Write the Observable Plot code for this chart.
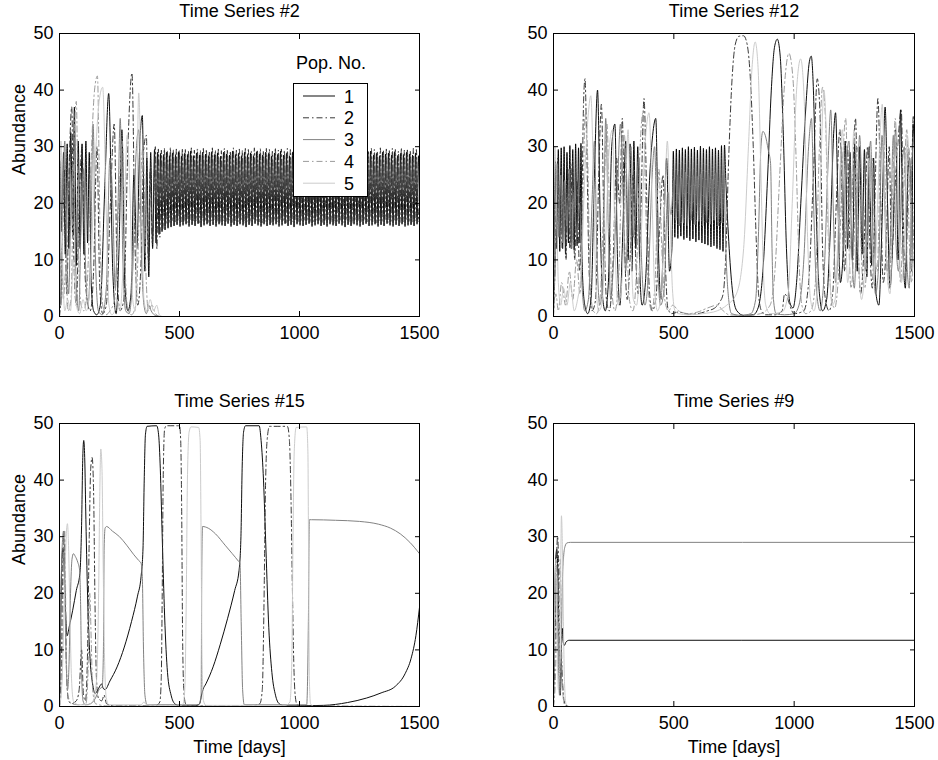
<!DOCTYPE html>
<html><head><meta charset="utf-8">
<script src="https://cdn.jsdelivr.net/npm/d3@7"></script>
<script src="https://cdn.jsdelivr.net/npm/@observablehq/plot@0.6"></script>
<style>
body{margin:0;background:#fff}
#wrap{position:relative;width:938px;height:760px;background:#fff;font-family:'Liberation Sans',Arial,Helvetica,sans-serif}
#wrap > svg{position:absolute}
</style></head><body><div id="wrap"></div>
<script>
// ---------- labels & ticks ----------
const popLabels = ["1","2","3","4","5"];
const legendTitle = "Pop. No.";
const xTicks = [0,500,1000,1500];
const yTicks = [0,10,20,30,40,50];
const titles = ["Time Series #2","Time Series #12","Time Series #15","Time Series #9"];
const xLabel = "Time [days]";
const yLabel = "Abundance";

// ---------- Time Series #2 ----------
const ts2_pop1_a = [[0,0],[4,27.5],[10,15],[17,29],[24,11],[32,30.5],[39,12],[47,32.5],[55,14],[62,37],[70,9],[78,31],[86,12],[94,30.5],[102,11],[110,31],[117,13],[124,29],[132,6],[142,1],[155,0.3],[170,2],[188,22],[205,39.4],[222,8],[236,0.5],[248,12],[260,33],[272,6],[285,1],[298,4],[310,25],[322,12],[334,30],[345,35.5],[356,8],[364,28],[372,7],[380,29],[388,12]];
const ts2_pop1_bandStart = 396, ts2_bandStep = 6.25;
const ts2_pop1_band = [29.5,13,29,14.5,28.8,15,28.6,15.3,29,15.6,28.4,15.8,28.9,16,28.6,16.2,29.1,15.9,28.3,16.1,
28.8,16.3,28.6,15.9,29.2,16.2,28.4,16,28.9,16.4,28.5,15.8,29,16.1,28.7,16.3,28.4,16,29.1,16.2,
28.6,15.9,28.9,16.3,28.3,16.1,29,16,28.7,16.4,28.5,15.9,29.2,16.2,28.6,16,28.8,16.3,28.4,16.1,
29,15.8,28.6,16.2,28.9,16,28.4,16.4,29.1,16.1,28.7,15.9,28.5,16.3,29,16,28.8,16.2,28.3,16.1,
28.9,16.3,28.6,15.9,29.2,16.1,28.5,16.4,28.8,16,28.4,16.2,29,15.8,28.7,16.3,28.9,16.1,28.5,16,
29.1,16.2,28.6,16.4,28.3,15.9,28.9,16.1,28.7,16.3,29,16,28.5,16.2,28.8,15.9,28.4,16.3,29.2,16.1,
28.6,16,28.9,16.4,28.4,16.1,29,15.8,28.7,16.2,28.5,16,29.1,16.3,28.6,16.1,28.8,15.9,28.3,16.2,
28.9,16.4,28.6,16,29.2,16.1,28.5,16.3,28.8,15.9,28.4,16.2,29,16,28.7,16.4,28.9,16.1,28.5,15.9,
29.1,16.2,28.4,16,28.8,16.3,28.6,15.9,29,16.1,28.7,16.2,28.5,16,28.9,16.3,28.4];
const ts2_pop1_end = [[1500,22]];
const ts2_pop2_a = [[0,0],[8,5],[20,26],[30,4],[42,29],[51,37],[60,10],[70,2],[82,20],[94,30],[104,10],[115,3],[128,1],[142,8],[156,30],[168,5],[180,0.5],[195,2],[212,20],[228,34],[240,8],[252,1],[268,3],[285,30],[302,43],[315,12],[326,2],[340,10],[352,30],[362,32],[370,10],[378,26],[387,13]];
const ts2_pop2_bandStart = 399.5;
const ts2_pop2_band = [30,12,29.6,14,29.4,15.5,29.7,16.3,29.2,16.6,29.8,16.9,29.4,16.5,29.6,17,29.3,16.7,29.7,16.8,
29.5,16.6,29.2,17.1,29.8,16.7,29.4,16.9,29.6,16.5,29.3,17,29.7,16.8,29.5,16.6,29.2,16.9,29.8,17.1,
29.4,16.7,29.6,16.5,29.3,16.9,29.7,16.8,29.5,17,29.2,16.6,29.8,16.9,29.4,16.7,29.6,17.1,29.3,16.5,
29.7,16.8,29.5,16.6,29.2,17,29.8,16.9,29.4,16.7,29.6,16.5,29.3,16.8,29.7,17.1,29.5,16.6,29.2,16.9,
29.8,16.7,29.4,17,29.6,16.8,29.3,16.5,29.7,16.9,29.5,16.7,29.2,17.1,29.8,16.6,29.4,16.8,29.6,17,
29.3,16.9,29.7,16.5,29.5,16.7,29.2,17,29.8,16.8,29.4,16.6,29.6,16.9,29.3,17.1,29.7,16.7,29.5,16.5,
29.2,16.8,29.8,17,29.4,16.6,29.6,16.9,29.3,16.7,29.7,16.5,29.5,17.1,29.2,16.8,29.8,16.6,29.4,16.9,
29.6,16.7,29.3,17,29.7,16.8,29.5,16.5,29.2,16.9,29.8,16.7,29.4,17.1,29.6,16.6,29.3,16.8,29.7,17,
29.5,16.9,29.2,16.6,29.8,16.7,29.4,17,29.6,16.8,29.3,16.5,29.7,16.9,29.5,16.7];
const ts2_pop2_end = [[1500,22]];
const ts2_pop3 = [[0,10],[6,2],[14,20],[22,31],[30,12],[38,4],[48,20],[58,27],[68,8],[80,1],[92,20],[100,26],[108,10],[118,2],[130,12],[140,34],[150,10],[162,1],[178,0.3],[195,5],[210,28],[222,20],[232,5],[244,20],[253,35],[264,10],[276,1],[290,0.5],[305,8],[318,28],[330,33],[342,10],[352,2],[362,0.5],[372,2],[382,1],[395,0.3],[420,0],[1500,0]];
const ts2_pop4 = [[0,3],[8,12],[16,3],[26,8],[36,1],[48,3],[60,30],[70,38],[80,10],[90,2],[102,1],[116,6],[132,28],[146,40],[158,42.5],[170,12],[180,2],[195,0.3],[210,1],[230,3],[248,22],[262,31],[274,8],[286,1],[300,0.3],[318,2],[334,20],[348,30],[360,8],[370,1],[385,2],[400,0.5],[420,0],[1500,0]];
const ts2_pop5 = [[0,12],[6,31],[14,8],[22,1],[34,3],[46,1],[58,10],[70,2],[84,0.5],[98,3],[112,1],[126,5],[146,25],[165,38],[180,40.5],[194,20],[206,2],[218,0.3],[230,1],[240,3],[252,1],[266,10],[282,32],[295,20],[305,3],[316,1],[330,39.5],[342,20],[352,3],[364,1],[378,3],[392,1],[405,2],[416,0.3],[430,0],[1500,0]];

// ---------- Time Series #12 ----------
const ts12_pop1_a = [[0,0],[8,27.5],[14,12],[20,29.5],[26,11.5],[32,29.8],[38,12],[44,30],[50,11],[56,29],[62,13],[68,30.2],[74,12],[80,29.5],[86,11.8],[92,30.5],[98,12.5],[104,29.8],[110,13],[114,30.6],[120,8],[130,2],[142,0.5],[156,3],[170,25],[183,40],[195,15],[205,3],[215,1],[228,6],[242,30],[255,34],[266,10],[276,2],[288,15],[300,31],[310,10],[318,30.5],[326,8],[334,31],[342,12],[350,30],[358,9],[368,2],[382,6],[400,25],[412,32],[425,35],[436,12],[446,3],[458,15],[470,28],[482,8],[492,12]];
const ts12_pop1_bandStart = 498, ts12_bandStep = 6.25;
const ts12_pop1_band = [29.2,14,29.6,13.8,29.4,14.2,29.8,13.6,29.5,13.9,30,13.4,29.6,13.7,29.9,13.2,29.4,13.5,30.1,13,29.7,12.8,29.5,12.6,30,12.3,29.6,12.5,29.8,12,29.4,11.8,30.2,11.5,30.3];
const ts12_pop1_b = [[716,24],[730,12],[745,4],[762,1],[790,0.2],[830,0.3],[850,1.5],[870,8],[890,25],[905,40],[918,47.5],[930,49],[942,46],[955,32],[968,12],[982,2.5],[995,1.5],[1010,6],[1030,22],[1050,38],[1063,45],[1071,46],[1080,40],[1092,18],[1105,4],[1118,1],[1135,3],[1150,15],[1165,33],[1172,36],[1182,20],[1192,6],[1202,10],[1212,31],[1222,12],[1232,29],[1242,10],[1252,30.5],[1262,8],[1272,30],[1282,11],[1292,29.5],[1302,7],[1312,30],[1322,9],[1330,28],[1340,4],[1352,2],[1364,15],[1378,37],[1388,20],[1398,5],[1410,14],[1422,33],[1432,10],[1442,36.5],[1452,12],[1462,5],[1472,25],[1480,28],[1488,8],[1494,34],[1500,30]];
const ts12_pop2 = [[0,0],[6,8],[12,20],[18,28],[24,14],[30,26],[36,12],[44,27],[52,10],[60,26],[68,12],[78,27],[88,10],[98,24],[108,8],[118,20],[125,38],[131,42],[138,30],[148,8],[160,1],[175,3],[188,25],[199,37.5],[210,15],[220,3],[232,1],[248,10],[262,28],[275,20],[286,35],[296,12],[306,3],[318,10],[330,25],[340,12],[352,4],[364,20],[376,38.5],[388,20],[398,5],[410,1],[425,3],[440,15],[455,25],[466,8],[475,1.5],[490,0.5],[520,0.8],[560,0.4],[600,0.5],[640,1],[670,1.5],[690,2.5],[705,4],[715,10],[728,28],[742,42],[755,48],[770,49.5],[790,49.6],[805,48],[818,42],[830,30],[842,14],[852,4],[864,1],[880,0.3],[920,0.3],[950,1],[960,4],[1000,0.5],[1040,1],[1060,6],[1080,25],[1096,42],[1108,35],[1118,12],[1130,3],[1145,1],[1160,4],[1175,20],[1190,33],[1200,18],[1210,8],[1222,30],[1232,12],[1245,27],[1255,35],[1265,14],[1276,4],[1290,12],[1305,30],[1315,12],[1325,5],[1335,20],[1348,38.5],[1360,20],[1370,6],[1382,12],[1395,30],[1405,10],[1418,22],[1430,30],[1445,36.5],[1455,15],[1465,8],[1475,30],[1485,20],[1495,35.5],[1500,33]];
const ts12_pop3_a = [[0,3],[8,10],[16,27],[22,14],[30,25],[38,13],[46,24],[56,16],[66,26],[76,12],[86,22],[96,14],[108,20],[118,6],[130,1],[145,3],[160,20],[170,31],[180,12],[192,2],[205,6],[217,35],[228,15],[238,3],[250,10],[265,22],[278,34],[290,20],[300,8],[312,22],[322,30],[332,14],[344,22],[355,28],[366,10],[380,2],[395,8],[410,25],[420,30],[432,10],[445,2],[460,5],[475,22],[488,18]];
const ts12_pop3_bandStart = 500, ts12_pop3_step = 8;
const ts12_pop3_band = [24,17,25,16,24.5,16.5,25.5,16,24,17,25,16.2,24.8,16.8,25.2,16,24.5,16.6,25,16.3,24.2,17,25.4,16,24.6,16.5,25];
const ts12_pop3_b = [[716,12],[728,3],[740,0.5],[780,0.2],[820,0.5],[840,3],[852,15],[862,30],[870,32.7],[880,32],[892,29.5],[902,27],[908,12],[914,3],[925,0.5],[960,0.3],[1000,0.5],[1020,2],[1040,10],[1060,30],[1072,35],[1082,18],[1094,4],[1108,1],[1125,8],[1140,26],[1152,36.5],[1162,20],[1172,6],[1185,14],[1196,30],[1206,12],[1216,26],[1228,31],[1238,14],[1250,5],[1262,20],[1272,32],[1284,18],[1295,8],[1308,25],[1318,31],[1328,12],[1338,4],[1352,10],[1365,32],[1376,20],[1386,8],[1400,14],[1412,32],[1422,14],[1434,8],[1448,26],[1458,30],[1468,10],[1478,5],[1490,28],[1500,32]];
const ts12_pop4 = [[0,1],[10,4],[20,1],[34,6],[50,2],[66,8],[80,3],[96,10],[110,4],[122,20],[132,36],[142,28],[152,6],[165,1],[180,0.5],[195,4],[210,22],[222,34],[232,20],[242,5],[255,1],[270,6],[285,28],[295,32],[305,15],[315,3],[330,1],[345,8],[360,30],[372,36],[384,18],[395,4],[408,1],[422,6],[438,26],[450,12],[462,3],[478,1],[495,2],[520,1],[560,0.5],[600,0.8],[640,1.5],[680,2],[705,1],[730,0.3],[800,0.2],[860,0.5],[900,2],[920,8],[940,25],[960,41],[978,46.5],[995,42],[1008,28],[1020,10],[1032,2],[1048,0.5],[1070,1],[1088,6],[1105,30],[1118,40.5],[1130,35],[1142,14],[1155,3],[1168,1.5],[1185,8],[1200,26],[1214,35],[1226,15],[1236,5],[1248,12],[1260,30],[1270,26],[1282,8],[1294,5],[1310,18],[1325,28],[1335,12],[1345,8],[1360,30],[1372,32],[1384,12],[1394,5],[1408,20],[1420,35],[1432,18],[1442,6],[1455,22],[1468,33],[1478,14],[1488,6],[1500,22]];
const ts12_pop5 = [[0,10],[6,30],[12,22],[20,6],[30,2],[42,5],[56,2],[70,6],[86,1],[100,3],[115,8],[130,25],[145,36],[155,39],[166,25],[176,6],[188,1],[200,2],[215,12],[232,30],[245,33],[256,12],[268,2],[282,5],[298,20],[310,33],[320,16],[332,3],[345,2],[360,10],[380,30],[397,36],[410,20],[420,5],[432,1],[448,4],[462,20],[473,31],[484,18],[494,5],[505,1],[520,0.5],[560,0.3],[620,0.5],[680,1],[720,2],[760,4],[790,12],[810,30],[825,44],[838,48.5],[850,44],[862,25],[872,8],[882,2],[900,0.5],[950,0.8],[975,4],[992,20],[1010,40],[1027,45.5],[1042,38],[1055,15],[1068,3],[1082,1],[1096,5],[1110,25],[1124,40],[1135,30],[1146,10],[1158,2],[1170,3],[1185,18],[1200,33],[1212,20],[1222,6],[1235,14],[1248,33],[1258,28],[1268,10],[1280,3],[1295,10],[1310,28],[1320,20],[1332,6],[1345,18],[1358,33],[1366,37.5],[1376,22],[1386,8],[1398,4],[1412,22],[1425,33],[1435,15],[1445,6],[1458,12],[1470,32],[1480,25],[1490,8],[1500,12]];

// ---------- Time Series #15 ----------
const ts15_pop1 = [[0,0],[5,15],[10,26],[15,28],[20,24],[26,16],[32,12.5],[40,14],[55,17],[70,20.5],[85,23.5],[92,32],[97,44],[101,47],[105,44],[110,33],[118,18],[128,8],[138,4],[148,2.3],[158,2.8],[168,3.6],[176,4],[182,3.2],[190,3],[210,4.5],[240,7],[270,10.5],[300,15],[325,19.5],[340,23],[348,28],[353,40],[358,48],[365,49.5],[405,49.6],[413,48],[420,42],[428,30],[438,16],[450,6],[465,2],[480,0.5],[500,0.1],[560,0.1],[584,0.5],[592,2],[598,3],[610,4],[640,7],[670,11],[700,15.5],[730,20.5],[748,24],[756,30],[761,42],[767,48.5],[775,49.6],[832,49.6],[840,47],[850,40],[860,28],[872,14],[885,6],[900,2],[915,0.5],[940,0.1],[1100,0.2],[1200,0.7],[1280,1.5],[1340,2.4],[1400,3.6],[1440,5.8],[1465,8.5],[1485,12.5],[1500,17.5]];
const ts15_pop2 = [[0,0],[8,8],[14,25],[19,31],[24,20],[30,5],[38,1],[50,0.5],[70,1],[82,3],[92,10],[100,2],[108,1],[116,8],[124,30],[130,42],[136,44],[142,38],[148,18],[154,5],[162,1.5],[176,1],[186,2],[196,0.5],[230,0.1],[400,0.1],[418,0.8],[424,5],[428,20],[432,40],[438,49],[445,49.6],[500,49.6],[505,47],[509,35],[513,12],[518,3],[525,0.5],[540,0.1],[800,0.1],[835,0.5],[845,3],[852,18],[858,38],[865,47],[875,49.5],[950,49.5],[958,47],[964,38],[970,22],[976,8],[982,2],[990,0.3],[1010,0.1],[1500,0]];
const ts15_pop3 = [[0,0],[6,20],[12,29],[17,31],[22,22],[28,8],[34,3],[40,8],[46,20],[52,26],[58,27],[66,26.5],[76,25.5],[84,24],[88,18],[92,6],[98,1],[108,0.3],[130,0.5],[150,1.5],[165,3],[178,3.5],[183,10],[186,28],[190,31.5],[196,31.8],[220,31],[250,30],[280,28.5],[310,26.8],[330,25.8],[340,25.3],[345,23],[350,10],[356,2],[365,0.3],[580,0.3],[590,2],[593,25],[596,31.8],[620,31.5],[650,30.5],[690,28.5],[720,27],[745,25.7],[752,25.3],[757,15],[763,3],[770,0.3],[1030,0.3],[1037,15],[1041,33],[1050,33],[1150,32.9],[1250,32.7],[1330,32.2],[1380,31.5],[1420,30.5],[1460,29],[1500,27]];
const ts15_pop4 = [[0,0],[10,5],[18,28],[22,31],[28,10],[35,2],[50,0.5],[80,0.3],[110,0.5],[118,5],[126,20],[132,12],[138,3],[150,0.5],[200,0.1],[1500,0]];
const ts15_pop5 = [[0,0],[10,4],[20,18],[28,30],[33,32.3],[38,28],[44,15],[50,5],[58,1],[80,0.3],[120,0.3],[140,1],[155,5],[163,20],[168,38],[172,45.5],[177,42],[182,25],[188,8],[195,1.5],[205,0.3],[340,0.3],[352,0.8],[362,0.3],[500,0.1],[515,0.5],[522,3],[528,18],[533,40],[540,48.5],[548,49.4],[580,49.3],[586,47],[590,30],[594,8],[600,1],[610,0.2],[940,0.2],[960,0.8],[968,8],[973,30],[978,45],[986,49.3],[1030,49.4],[1035,45],[1038,25],[1041,5],[1046,0.5],[1060,0],[1500,0]];

// ---------- Time Series #9 ----------
const ts9_pop1 = [[0,0],[4,14],[9,26],[14,27.8],[19,22],[24,8],[28,2],[31,5],[34,12],[37,13.8],[40,11.5],[45,10.8],[52,11.4],[65,11.7],[1500,11.7]];
const ts9_pop2 = [[0,0],[6,10],[12,25],[17,30],[21,25],[25,10],[29,5],[33,8],[38,4],[44,1],[52,0.2],[70,0],[1500,0]];
const ts9_pop3 = [[0,2],[5,12],[10,22],[15,20],[20,8],[25,2],[29,3],[33,12],[37,22],[42,26.5],[48,28.3],[56,28.9],[70,29],[1500,29]];
const ts9_pop4 = [[0,0],[8,5],[14,15],[18,10],[24,22],[28,26],[32,15],[37,4],[44,0.5],[60,0],[1500,0]];
const ts9_pop5 = [[0,5],[6,20],[10,26],[15,12],[20,3],[25,6],[29,20],[33,33.7],[37,28],[41,15],[46,4],[52,0.5],[65,0],[1500,0]];

// ---------- assembly ----------
const band = (start, step, vals) => vals.map((v, i) => [start + i * step, v]);
const pts = arr => arr.map(([t, v]) => ({t, v}));

const panels = [
  [ts2_pop1_a.concat(band(ts2_pop1_bandStart, ts2_bandStep, ts2_pop1_band), ts2_pop1_end),
   ts2_pop2_a.concat(band(ts2_pop2_bandStart, ts2_bandStep, ts2_pop2_band), ts2_pop2_end),
   ts2_pop3, ts2_pop4, ts2_pop5],
  [ts12_pop1_a.concat(band(ts12_pop1_bandStart, ts12_bandStep, ts12_pop1_band), ts12_pop1_b),
   ts12_pop2,
   ts12_pop3_a.concat(band(ts12_pop3_bandStart, ts12_pop3_step, ts12_pop3_band), ts12_pop3_b),
   ts12_pop4, ts12_pop5],
  [ts15_pop1, ts15_pop2, ts15_pop3, ts15_pop4, ts15_pop5],
  [ts9_pop1, ts9_pop2, ts9_pop3, ts9_pop4, ts9_pop5]
];

const popStyle = [
  {stroke: "#000000", dash: null},
  {stroke: "#2e2e2e", dash: "6,3,1.5,3"},
  {stroke: "#7a7a7a", dash: null},
  {stroke: "#959595", dash: "6,3,1.5,3"},
  {stroke: "#c8c8c8", dash: null}
];

const layout = [
  {left: 0,   top: 0,   ml: 59, mr: 50, mt: 33, mb: 64, ylab: true,  xlab: false},
  {left: 469, top: 0,   ml: 84, mr: 24, mt: 33, mb: 64, ylab: false, xlab: false},
  {left: 0,   top: 380, ml: 59, mr: 50, mt: 43, mb: 54, ylab: true,  xlab: true},
  {left: 469, top: 380, ml: 84, mr: 24, mt: 43, mb: 54, ylab: false, xlab: true}
];

const FONT = "'Liberation Sans', Arial, Helvetica, sans-serif";
const wrap = document.getElementById("wrap");
const fmt = d => String(d);

panels.forEach((series, k) => {
  const L = layout[k];
  const marks = [];
  series.forEach((s, i) => {
    marks.push(Plot.line(pts(s), {
      x: "t", y: "v", stroke: popStyle[i].stroke, strokeWidth: 0.95,
      strokeDasharray: popStyle[i].dash, curve: "monotone-x", clip: true
    }));
  });
  marks.push(Plot.frame({stroke: "#000", strokeWidth: 1}));
  marks.push(Plot.axisX(xTicks, {anchor: "bottom", tickSize: -5, tickPadding: 15, tickFormat: fmt, label: null, stroke: "#000"}));
  marks.push(Plot.axisX(xTicks, {anchor: "top", tickSize: -5, tickFormat: () => "", label: null, stroke: "#000"}));
  marks.push(Plot.axisY(yTicks, {anchor: "left", tickSize: -5, tickPadding: 11, tickFormat: fmt, label: null, stroke: "#000"}));
  marks.push(Plot.axisY(yTicks, {anchor: "right", tickSize: -5, tickFormat: () => "", label: null, stroke: "#000"}));
  marks.push(Plot.text([titles[k]], {text: d => d, frameAnchor: "top", dy: -22, lineAnchor: "middle", fontSize: 18}));
  if (L.xlab) marks.push(Plot.text([xLabel], {text: d => d, frameAnchor: "bottom", dy: 41, lineAnchor: "middle", fontSize: 18}));
  if (L.ylab) marks.push(Plot.text([yLabel], {text: d => d, frameAnchor: "left", dx: -40, rotate: -90, lineAnchor: "middle", fontSize: 18}));

  const svg = Plot.plot({
    width: 469, height: 380,
    marginLeft: L.ml, marginRight: L.mr, marginTop: L.mt, marginBottom: L.mb,
    x: {domain: [0, 1500], label: null},
    y: {domain: [0, 50], label: null},
    style: {fontFamily: FONT, fontSize: "18px", color: "#000", background: "transparent", overflow: "visible"},
    marks
  });
  svg.style.left = L.left + "px";
  svg.style.top = L.top + "px";
  wrap.appendChild(svg);
});

// ---------- legend (Time Series #2) ----------
const leg = d3.create("svg").attr("width", 469).attr("height", 380)
  .style("left", "0px").style("top", "0px").style("font-family", FONT);
leg.append("text").attr("x", 331).attr("y", 69).attr("text-anchor", "middle")
  .attr("font-size", 18).text(legendTitle);
leg.append("rect").attr("x", 293.5).attr("y", 83.5).attr("width", 74).attr("height", 113)
  .attr("fill", "#fff").attr("stroke", "#000").attr("stroke-width", 1);
const rows = leg.selectAll("g.row").data(popLabels).join("g")
  .attr("transform", (d, i) => `translate(0,${96 + i * 21.8})`);
rows.append("line").attr("x1", 303).attr("x2", 335).attr("y1", 0).attr("y2", 0)
  .attr("stroke", (d, i) => popStyle[i].stroke).attr("stroke-width", 0.95)
  .attr("stroke-dasharray", (d, i) => popStyle[i].dash);
rows.append("text").attr("x", 344).attr("y", 6.5).attr("font-size", 18).text(d => d);
wrap.appendChild(leg.node());
</script>
</body></html>
